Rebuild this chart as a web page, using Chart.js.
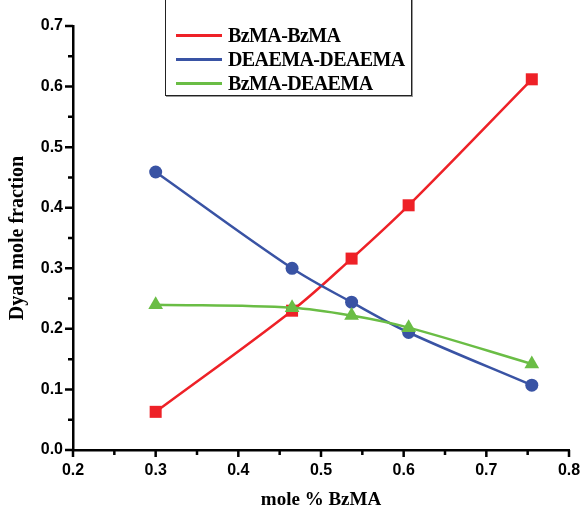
<!DOCTYPE html>
<html>
<head>
<meta charset="utf-8">
<script src="https://cdn.jsdelivr.net/npm/chart.js@4/dist/chart.umd.min.js"></script>
<style>
  html, body { margin: 0; padding: 0; background: #fff; }
  #wrap { position: relative; width: 585px; height: 511px; overflow: hidden; }
  #legend {
    position: absolute; left: 165px; top: -10px; width: 247px; height: 106px;
    border: 1px solid #222; box-shadow: 1px 1px 0 #999; background: #fff; box-sizing: border-box;
    font-family: "Liberation Serif", "Times New Roman", serif; font-weight: bold; font-size: 20px;
  }
  .item { position: absolute; left: 10px; height: 22px; display: flex; align-items: center; }
  .swatch { width: 46px; height: 3px; margin-right: 6px; }
  .item span { letter-spacing: -0.6px; color: #000; }
</style>
</head>
<body>
<div id="wrap">
  <canvas id="c" width="585" height="511"></canvas>
  <div id="legend"></div>
</div>
<script>
// Composition (mole fraction BzMA) and dyad mole fractions
const molBzMA = [0.300, 0.465, 0.537, 0.606, 0.755];
const bzmaBzma = [0.063, 0.230, 0.316, 0.404, 0.612];
const deaemaDeaema = [0.459, 0.300, 0.244, 0.194, 0.107];
const bzmaDeaema = [0.240, 0.235, 0.222, 0.202, 0.142];
const seriesNames = ["BzMA-BzMA", "DEAEMA-DEAEMA", "BzMA-DEAEMA"];
const seriesColors = ["#ee2127", "#3953a4", "#6abd45"];
const xTicks = [0.2, 0.3, 0.4, 0.5, 0.6, 0.7, 0.8];
const yTicks = [0.0, 0.1, 0.2, 0.3, 0.4, 0.5, 0.6, 0.7];

const pts = ys => molBzMA.map((x, i) => ({ x, y: ys[i] }));

// Outward major/minor tick marks drawn from the scales
const tickMarks = {
  id: 'tickMarks',
  afterDraw(chart) {
    const { ctx, chartArea: a, scales: { x, y } } = chart;
    ctx.save();
    ctx.strokeStyle = '#000';
    ctx.lineWidth = 2.5;
    ctx.beginPath();
    for (let k = 0; k <= 12; k++) {
      const v = 0.2 + k * 0.05;
      const px = x.getPixelForValue(v);
      ctx.moveTo(px, a.bottom); ctx.lineTo(px, a.bottom + (k % 2 === 0 ? 7 : 5));
    }
    for (let k = 0; k <= 14; k++) {
      const v = k * 0.05;
      const py = y.getPixelForValue(v);
      ctx.moveTo(a.left, py); ctx.lineTo(a.left - (k % 2 === 0 ? 8 : 5), py);
    }
    ctx.stroke();
    ctx.restore();
  }
};

const markerStyles = ['rect', 'circle', 'triangle'];
const markerRadius = [8.5, 6.5, 8.5];
const allSeries = [bzmaBzma, deaemaDeaema, bzmaDeaema];

new Chart(document.getElementById('c'), {
  type: 'line',
  data: {
    datasets: allSeries.map((ys, i) => ({
      label: seriesNames[i],
      data: pts(ys),
      borderColor: seriesColors[i],
      backgroundColor: seriesColors[i],
      pointBackgroundColor: seriesColors[i],
      pointBorderColor: seriesColors[i],
      pointBorderWidth: 0,
      pointStyle: markerStyles[i],
      pointRadius: markerRadius[i],
      borderWidth: 2.5,
      tension: 0.35,
      order: 3 - i
    }))
  },
  options: {
    responsive: false,
    animation: false,
    layout: { padding: { left: 0, top: 26, right: 16, bottom: 0 } },
    plugins: { legend: { display: false }, tooltip: { enabled: false } },
    scales: {
      x: {
        type: 'linear', min: 0.2, max: 0.8,
        afterBuildTicks: s => { s.ticks = xTicks.map(v => ({ value: v })); },
        afterFit: s => { s.height = 61; s.paddingLeft = 0; s.paddingRight = 0; },
        grid: { display: false, drawTicks: false },
        border: { display: true, color: '#000', width: 2.5 },
        ticks: {
          padding: 11, color: '#000',
          font: { family: 'Liberation Sans', weight: 'bold', size: 16 },
          callback: v => v.toFixed(1)
        },
        title: {
          display: true, text: 'mole % BzMA', color: '#000',
          font: { family: 'Liberation Serif', weight: 'bold', size: 19 },
          padding: { top: 8, bottom: 0 }
        }
      },
      y: {
        min: 0, max: 0.7,
        afterBuildTicks: s => { s.ticks = yTicks.map(v => ({ value: v })); },
        afterFit: s => { s.width = 73; },
        grid: { display: false, drawTicks: false },
        border: { display: true, color: '#000', width: 2.5 },
        ticks: {
          padding: 10, color: '#000',
          font: { family: 'Liberation Sans', weight: 'bold', size: 16 },
          callback: v => v.toFixed(1)
        },
        title: {
          display: true, text: 'Dyad mole fraction', color: '#000',
          font: { family: 'Liberation Serif', weight: 'bold', size: 20 },
          padding: { top: 6, bottom: 0 }
        }
      }
    }
  },
  plugins: [tickMarks]
});

// Legend box
const legend = document.getElementById('legend');
seriesNames.forEach((name, i) => {
  const row = document.createElement('div');
  row.className = 'item';
  row.style.top = (33 + i * 24) + 'px';
  const sw = document.createElement('div');
  sw.className = 'swatch';
  sw.style.background = seriesColors[i];
  const t = document.createElement('span');
  t.textContent = name;
  row.appendChild(sw); row.appendChild(t);
  legend.appendChild(row);
});
</script>
</body>
</html>
